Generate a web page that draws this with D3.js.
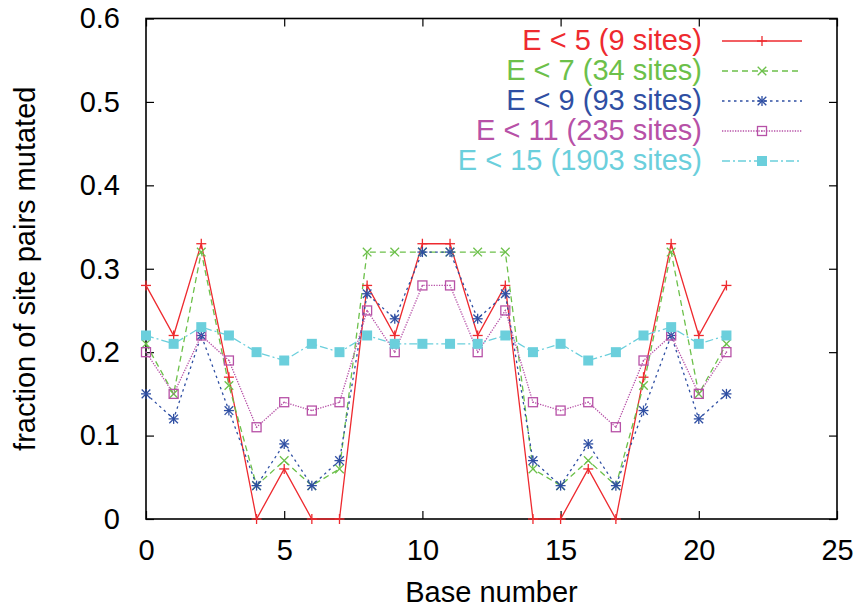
<!DOCTYPE html>
<html>
<head>
<meta charset="utf-8">
<script src="https://cdn.jsdelivr.net/npm/d3@7"></script>
<style>
  html, body { margin: 0; padding: 0; background: #fff; }
  svg { display: block; font-family: "Liberation Sans", Arial, Helvetica, sans-serif; }
</style>
</head>
<body>
<svg id="chart" width="860" height="607"></svg>
<script>
// Base positions along the site
const bases = [0, 1, 2, 3, 4, 5, 6, 7, 8, 9, 10, 11, 12, 13, 14, 15, 16, 17, 18, 19, 20, 21];

// Fraction of site pairs mutated, one array per energy threshold
const e5  = [0.28, 0.22, 0.33, 0.17, 0.00, 0.06, 0.00, 0.00, 0.28, 0.22, 0.33, 0.33, 0.22, 0.28, 0.00, 0.00, 0.06, 0.00, 0.17, 0.33, 0.22, 0.28];
const e7  = [0.21, 0.15, 0.32, 0.16, 0.04, 0.07, 0.04, 0.06, 0.32, 0.32, 0.32, 0.32, 0.32, 0.32, 0.06, 0.04, 0.07, 0.04, 0.16, 0.32, 0.15, 0.21];
const e9  = [0.15, 0.12, 0.22, 0.13, 0.04, 0.09, 0.04, 0.07, 0.27, 0.24, 0.32, 0.32, 0.24, 0.27, 0.07, 0.04, 0.09, 0.04, 0.13, 0.22, 0.12, 0.15];
const e11 = [0.20, 0.15, 0.22, 0.19, 0.11, 0.14, 0.13, 0.14, 0.25, 0.20, 0.28, 0.28, 0.20, 0.25, 0.14, 0.13, 0.14, 0.11, 0.19, 0.22, 0.15, 0.20];
const e15 = [0.22, 0.21, 0.23, 0.22, 0.20, 0.19, 0.21, 0.20, 0.22, 0.21, 0.21, 0.21, 0.21, 0.22, 0.20, 0.21, 0.19, 0.20, 0.22, 0.23, 0.21, 0.22];

const seriesLabels = ["E < 5 (9 sites)", "E < 7 (34 sites)", "E < 9 (93 sites)", "E < 11 (235 sites)", "E < 15 (1903 sites)"];

// Axis ticks
const xTicks = [0, 5, 10, 15, 20, 25];
const yTicks = [0, 0.1, 0.2, 0.3, 0.4, 0.5, 0.6];
const yTickLabels = ["0", "0.1", "0.2", "0.3", "0.4", "0.5", "0.6"];

const xTitle = "Base number";
const yTitle = "fraction of site pairs mutated";

// Drawing styles per series
const styles = [
  { color: "#ee2a2f", dash: null,          marker: "plus" },
  { color: "#6cc04a", dash: "6,4",         marker: "cross" },
  { color: "#2f4fa3", dash: "2.5,3.5",     marker: "star" },
  { color: "#b751a7", dash: "1.3,1.3",     marker: "box" },
  { color: "#6bcfdc", dash: "8,3,2,3",     marker: "fbox" }
];

const seriesData = [e5, e7, e9, e11, e15];

const svg = d3.select("#chart");
const plotLeft = 146, plotRight = 837, plotTop = 18.5, plotBottom = 519;

const x = d3.scaleLinear().domain([0, 25]).range([plotLeft, plotRight]);
const y = d3.scaleLinear().domain([0, 0.6]).range([plotBottom, plotTop]);

const fontSize = 29;

// Tick marks on all four sides, pointing inwards
const tickLen = 8;
const axisG = svg.append("g");
const yAxisLeft = d3.axisLeft(y).tickValues(yTicks).tickSize(-tickLen).tickFormat((d, i) => yTickLabels[i]).tickPadding(26);
const yAxisRight = d3.axisRight(y).tickValues(yTicks).tickSize(-tickLen).tickFormat("");
const xAxisBottom = d3.axisBottom(x).tickValues(xTicks).tickSize(-tickLen).tickFormat(d3.format("d")).tickPadding(20);
const xAxisTop = d3.axisTop(x).tickValues(xTicks).tickSize(-tickLen).tickFormat("");

function styleAxis(g) {
  g.select(".domain").remove();
  g.selectAll(".tick line").attr("stroke", "#000").attr("stroke-width", 1.2);
  g.selectAll(".tick text").attr("fill", "#000").style("font-size", fontSize + "px")
    .style("font-family", "'Liberation Sans', Arial, sans-serif");
}

axisG.append("g").attr("transform", `translate(${plotLeft},0)`).call(yAxisLeft).call(styleAxis);
axisG.append("g").attr("transform", `translate(${plotRight},0)`).call(yAxisRight).call(styleAxis);
axisG.append("g").attr("transform", `translate(0,${plotBottom})`).call(xAxisBottom).call(styleAxis);
axisG.append("g").attr("transform", `translate(0,${plotTop})`).call(xAxisTop).call(styleAxis);

// Plot frame
svg.append("rect")
  .attr("x", plotLeft).attr("y", plotTop)
  .attr("width", plotRight - plotLeft).attr("height", plotBottom - plotTop)
  .attr("fill", "none").attr("stroke", "#000").attr("stroke-width", 1.6);

// Axis titles
svg.append("text")
  .attr("x", (plotLeft + plotRight) / 2).attr("y", 602)
  .attr("text-anchor", "middle")
  .style("font-size", fontSize + "px")
  .attr("fill", "#000")
  .text(xTitle);

svg.append("text")
  .attr("transform", `translate(35,${(plotTop + plotBottom) / 2}) rotate(-90)`)
  .attr("text-anchor", "middle")
  .style("font-size", fontSize + "px")
  .attr("fill", "#000")
  .text(yTitle);

// Marker painter
function drawMarker(g, type, cx, cy, color) {
  const s = 5;
  if (type === "plus" || type === "star") {
    g.append("line").attr("x1", cx - s).attr("x2", cx + s).attr("y1", cy).attr("y2", cy)
      .attr("stroke", color).attr("stroke-width", 1.3);
    g.append("line").attr("x1", cx).attr("x2", cx).attr("y1", cy - s).attr("y2", cy + s)
      .attr("stroke", color).attr("stroke-width", 1.3);
  }
  if (type === "cross" || type === "star") {
    const c = 4.3;
    g.append("line").attr("x1", cx - c).attr("x2", cx + c).attr("y1", cy - c).attr("y2", cy + c)
      .attr("stroke", color).attr("stroke-width", 1.3);
    g.append("line").attr("x1", cx - c).attr("x2", cx + c).attr("y1", cy + c).attr("y2", cy - c)
      .attr("stroke", color).attr("stroke-width", 1.3);
  }
  if (type === "box") {
    g.append("rect").attr("x", cx - 4.5).attr("y", cy - 4.5).attr("width", 9).attr("height", 9)
      .attr("fill", "none").attr("stroke", color).attr("stroke-width", 1.3);
    g.append("circle").attr("cx", cx).attr("cy", cy).attr("r", 0.8).attr("fill", color);
  }
  if (type === "fbox") {
    g.append("rect").attr("x", cx - 5).attr("y", cy - 5).attr("width", 10).attr("height", 10)
      .attr("fill", color);
  }
}

// Series lines and markers
const line = d3.line().x((d, i) => x(bases[i])).y(d => y(d));
const plotG = svg.append("g");

seriesData.forEach((vals, k) => {
  const st = styles[k];
  plotG.append("path")
    .datum(vals)
    .attr("d", line)
    .attr("fill", "none")
    .attr("stroke", st.color)
    .attr("stroke-width", 1.3)
    .attr("stroke-dasharray", st.dash);
});

seriesData.forEach((vals, k) => {
  const st = styles[k];
  const mg = plotG.append("g");
  vals.forEach((v, i) => drawMarker(mg, st.marker, x(bases[i]), y(v), st.color));
});

// Legend
const legendG = svg.append("g");
seriesLabels.forEach((label, k) => {
  const st = styles[k];
  const baseY = 50 + k * 30;
  const ly = baseY - 9;
  legendG.append("text")
    .attr("x", 702).attr("y", baseY)
    .attr("text-anchor", "end")
    .style("font-size", fontSize + "px")
    .attr("fill", st.color)
    .text(label);
  legendG.append("line")
    .attr("x1", 722).attr("x2", 802).attr("y1", ly).attr("y2", ly)
    .attr("stroke", st.color).attr("stroke-width", 1.3)
    .attr("stroke-dasharray", st.dash);
  drawMarker(legendG, st.marker, 762, ly, st.color);
});
</script>
</body>
</html>
